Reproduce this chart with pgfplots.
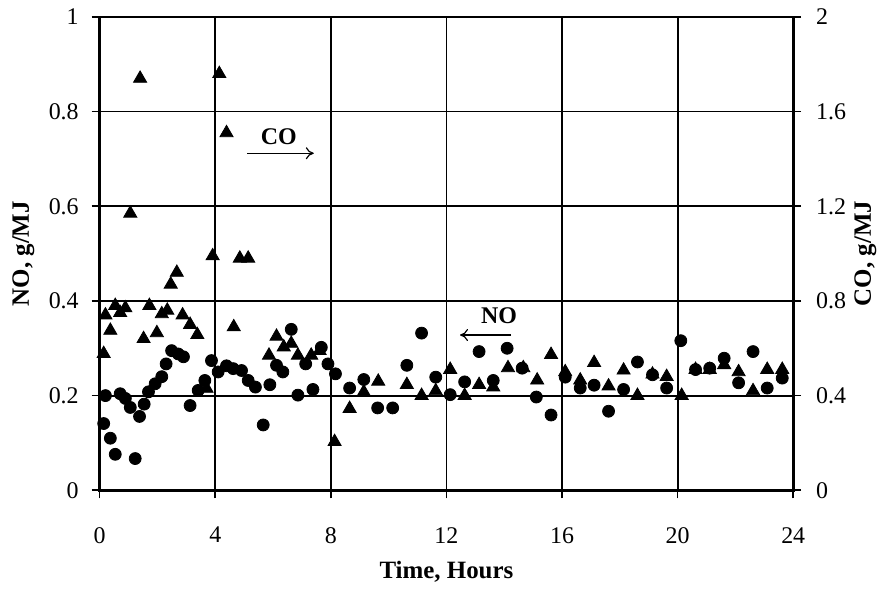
\documentclass[border=0pt]{standalone}
\usepackage{pgfplots}
\pgfplotsset{compat=1.18}
\usepackage{fontspec}
\setmainfont{Liberation Serif}
\usetikzlibrary{arrows.meta}

\pgfplotstableread{
x y
0.14 0.141
0.20 0.200
0.37 0.110
0.54 0.076
0.71 0.204
0.89 0.194
1.06 0.175
1.23 0.067
1.38 0.156
1.54 0.182
1.69 0.208
1.92 0.225
2.15 0.240
2.30 0.267
2.49 0.295
2.72 0.288
2.90 0.282
3.13 0.179
3.41 0.211
3.64 0.232
3.87 0.274
4.10 0.250
4.39 0.263
4.62 0.257
4.91 0.253
5.14 0.232
5.39 0.218
5.66 0.138
5.89 0.223
6.12 0.264
6.34 0.250
6.63 0.340
6.86 0.201
7.13 0.267
7.38 0.213
7.67 0.302
7.90 0.267
8.16 0.246
8.65 0.216
9.14 0.234
9.62 0.174
10.14 0.174
10.63 0.264
11.14 0.332
11.63 0.239
12.13 0.202
12.63 0.229
13.13 0.293
13.62 0.232
14.10 0.300
14.62 0.258
15.11 0.197
15.62 0.159
16.11 0.239
16.63 0.216
17.11 0.222
17.61 0.167
18.13 0.213
18.61 0.271
19.13 0.244
19.62 0.216
20.11 0.316
20.62 0.255
21.11 0.258
21.61 0.279
22.11 0.227
22.61 0.293
23.10 0.216
23.62 0.237
}\nodata

\pgfplotstableread{
x y
0.14 0.577
0.20 0.740
0.37 0.675
0.54 0.780
0.71 0.750
0.89 0.770
1.06 1.170
1.40 1.740
1.52 0.640
1.72 0.780
1.98 0.665
2.15 0.745
2.34 0.760
2.46 0.870
2.67 0.920
2.87 0.740
3.13 0.700
3.38 0.657
3.70 0.430
3.91 0.990
4.14 1.760
4.39 1.510
4.64 0.690
4.85 0.980
5.14 0.980
5.86 0.570
6.12 0.650
6.37 0.605
6.63 0.620
6.86 0.570
7.32 0.570
7.61 0.590
8.13 0.205
8.65 0.345
9.14 0.415
9.64 0.460
10.63 0.446
11.14 0.400
11.63 0.420
12.13 0.510
12.63 0.400
13.13 0.446
13.62 0.436
14.13 0.517
14.66 0.517
15.14 0.465
15.62 0.573
16.11 0.500
16.63 0.465
17.11 0.539
17.61 0.440
18.13 0.507
18.61 0.400
19.13 0.490
19.62 0.480
20.14 0.400
20.62 0.510
21.11 0.510
21.61 0.530
22.11 0.500
22.61 0.420
23.10 0.510
23.62 0.510
}\codata

\begin{document}
\begin{tikzpicture}
\pgfplotsset{
  common/.style={
    width=348pt, height=237.5pt, scale only axis,
    xmin=0, xmax=24,
    tick align=outside,
    major tick length=4pt,
    tick style={black, line width=0.8pt},
    axis line style={black, line width=1.4pt},
    tick label style={font=\fontsize{12}{14}\selectfont},
    label style={font=\fontsize{12.5}{14}\selectfont\bfseries},
    /pgf/number format/assume math mode=true,
  }
}
\begin{axis}[common, name=main,
  ymin=0, ymax=1,
  xtick={0,4,...,24},
  ytick={0,0.2,...,1},
  yticklabels={0,0.2,0.4,0.6,0.8,1},
  xtick pos=bottom, ytick pos=left,
  xticklabel shift=11pt,
  yticklabel shift=3pt,
  grid=major,
  grid style={black, line width=0.9pt},
  xlabel={Time, Hours},
  ylabel={NO, g/MJ},
  xlabel style={at={(axis description cs:0.5,-0.172)}, anchor=center},
  ylabel style={at={(axis description cs:-0.11,0.5)}, anchor=center},
  clip=false,
]
\addplot[only marks, mark=*, mark size=3pt, black] table {\nodata};
\draw[-{To[length=4pt,width=6pt]}, line width=0.6pt] (axis cs:5.1,0.712) -- (axis cs:7.41,0.712);
\node[font=\fontsize{12}{14}\selectfont\bfseries] at (axis cs:6.2,0.747) {CO};
\draw[-{To[length=4pt,width=6pt]}, line width=0.6pt] (axis cs:14.24,0.328) -- (axis cs:12.47,0.328);
\node[font=\fontsize{12}{14}\selectfont\bfseries] at (axis cs:13.82,0.368) {NO};
\end{axis}
\begin{axis}[common,
  ymin=0, ymax=2,
  axis y line*=right, axis x line=none,
  ytick={0,0.4,...,2},
  yticklabels={0,0.4,0.8,1.2,1.6,2},
  yticklabel shift=4pt,
  ylabel={CO, g/MJ},
  ylabel style={at={(axis description cs:1.104,0.5)}, anchor=center, rotate=0},
]
\addplot[only marks, mark=triangle*, mark size=3.8pt, black] table {\codata};
\end{axis}
\path ([xshift=-50pt,yshift=-48pt]main.south west) rectangle ([xshift=43.5pt,yshift=8.5pt]main.north east);
\end{tikzpicture}
\end{document}
